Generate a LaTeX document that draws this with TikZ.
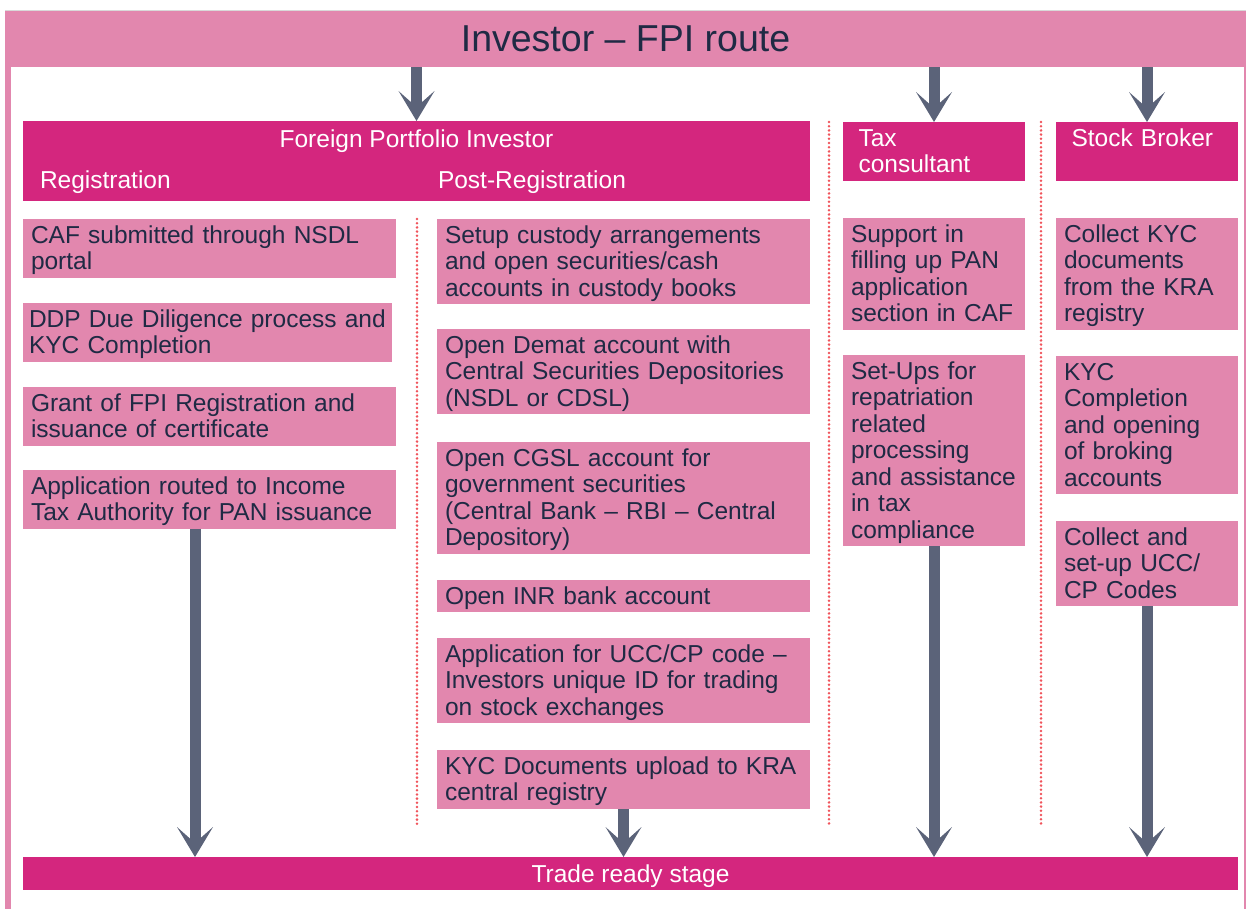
\documentclass[tikz,border=0pt]{standalone}
\usepackage{fontspec}
\setmainfont{Liberation Sans}
\usetikzlibrary{arrows.meta}
\definecolor{lpink}{HTML}{E287AE}
\definecolor{mag}{HTML}{D4267E}
\definecolor{slate}{HTML}{5B6379}
\definecolor{navy}{HTML}{1F2A44}
\definecolor{dotred}{HTML}{F0545C}
\newcommand\bxtop{\rule{0pt}{24.4pt}}
\newcommand\bxbot{\rule[-8pt]{0pt}{8pt}}
\newcommand\bxfont{\fontsize{24.5}{26.5}\selectfont}
\begin{document}
\begin{tikzpicture}[x=1pt,y=-1pt,
  every node/.style={inner sep=0pt, outer sep=0pt},
  box/.style={fill=lpink, text=navy, align=left, anchor=north west, inner xsep=8pt, inner ysep=0pt,
    font=\bxfont, execute at begin node=\bxtop, execute at end node=\bxbot},
  widebox/.style={box, text width=357pt},
  narrowbox/.style={box, text width=166pt},
  hdrbox/.style={fill=mag, text=white, font=\bxfont, anchor=north west},
  lbl/.style={text=white, font=\bxfont, anchor=base west},
  fat/.style={draw=slate, line width=11pt, -{Stealth[length=30pt, width=36pt, inset=16pt, line width=0pt]}},
  dotline/.style={draw=dotred, line width=2.8pt, line cap=round, dash pattern=on 0pt off 4.2pt}]
\useasboundingbox (0,0) rectangle (1246,909);

% frame
\node[fill=lpink, anchor=north west, minimum width=1241pt, minimum height=57.5pt, text=navy,
  font=\fontsize{37.5}{40}\selectfont, text height=42pt, text depth=15.5pt] (banner) at (5,10) {Investor – FPI route};
\draw[black!15, line width=0.8pt] (banner.north west) -- (banner.north east);
\fill[lpink] (5,67) rectangle (10.5,909);
\fill[lpink] (1244,67) rectangle (1246,909);

% headers
\node[hdrbox, minimum width=787pt, text height=26.3pt, text depth=53.7pt] (fpi) at (23,121) {Foreign Portfolio Investor};
\node[lbl] (regl) at (40,188.3) {Registration};
\node[lbl] (postl) at (438,188.3) {Post-Registration};
\node[box, fill=mag, text=white, inner xsep=15.5pt, text width=151pt] (taxh) at (843,122) {Tax\\consultant};
\node[hdrbox, inner xsep=15.5pt, text width=151pt, align=left, text height=24.4pt, text depth=34.5pt] (sbh) at (1056,122) {Stock Broker};

% registration
\node[widebox] (r1) at (23,219) {CAF submitted through NSDL\\portal};
\node[box, inner xsep=6pt, text width=357pt] (r2) at (23,303) {DDP Due Diligence process and\\KYC Completion};
\node[widebox] (r3) at (23,387) {Grant of FPI Registration and\\issuance of certificate};
\node[widebox] (r4) at (23,470) {Application routed to Income\\Tax Authority for PAN issuance};

% post-registration
\node[widebox] (p1) at (437,219) {Setup custody arrangements\\and open securities/cash\\accounts in custody books};
\node[widebox] (p2) at (437,329) {Open Demat account with\\Central Securities Depositories\\(NSDL or CDSL)};
\node[widebox] (p3) at (437,442) {Open CGSL account for\\government securities\\(Central Bank – RBI – Central\\Depository)};
\node[widebox] (p4) at (437,580) {Open INR bank account};
\node[widebox] (p5) at (437,638) {Application for UCC/CP code –\\Investors unique ID for trading\\on stock exchanges};
\node[widebox] (p6) at (437,750) {KYC Documents upload to KRA\\central registry};

% tax consultant
\node[narrowbox] (t1) at (843,218) {Support in\\filling up PAN\\application\\section in CAF};
\node[narrowbox] (t2) at (843,355) {Set-Ups for\\repatriation\\related\\processing\\and assistance\\in tax\\compliance};

% stock broker
\node[narrowbox] (b1) at (1056,218) {Collect KYC\\documents\\from the KRA\\registry};
\node[narrowbox] (b2) at (1056,356) {KYC\\Completion\\and opening\\of broking\\accounts};
\node[narrowbox] (b3) at (1056,521) {Collect and\\set-up UCC/\\CP Codes};

% trade ready
\node[hdrbox, minimum width=1215pt, text height=25.5pt, text depth=7pt] (trade) at (23,857) {Trade ready stage};

% separators
\draw[dotline] (417,219) -- (417,825);
\draw[dotline] (829,122) -- (829,825);
\draw[dotline] (1041,122) -- (1041,825);

% arrows
\draw[fat] (fpi.north |- banner.south) -- (fpi.north);
\draw[fat] (taxh.north |- banner.south) -- (taxh.north);
\draw[fat] (sbh.north |- banner.south) -- (sbh.north);
\coordinate (a1) at ([xshift=172pt]r4.south west);
\draw[fat] (a1) -- (a1 |- trade.north);
\draw[fat] (p6.south) -- (p6.south |- trade.north);
\draw[fat] (t2.south) -- (t2.south |- trade.north);
\draw[fat] (b3.south) -- (b3.south |- trade.north);
\end{tikzpicture}
\end{document}
